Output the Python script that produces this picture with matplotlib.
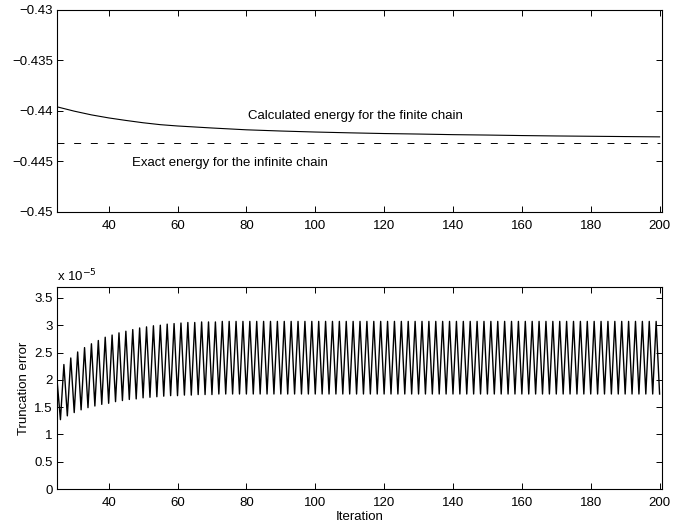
import numpy as np
import matplotlib
matplotlib.use('Agg')
import matplotlib.pyplot as plt

plt.rcParams['font.family'] = ['Liberation Sans', 'DejaVu Sans']
plt.rcParams['font.size'] = 9.5
plt.rcParams['lines.scale_dashes'] = False

# energy per site of the finite chain
energy_iter = [25, 30, 35, 40, 45, 50, 55, 60, 70, 80, 90, 100,
               110, 120, 130, 140, 150, 160, 170, 180, 190, 200]
energy_calc = [-0.4396, -0.44003, -0.4404, -0.4407, -0.44095, -0.44118,
               -0.44137, -0.4415, -0.4417, -0.44188, -0.442, -0.4421,
               -0.44218, -0.44225, -0.4423, -0.44236, -0.4424, -0.44245,
               -0.44249, -0.44252, -0.44255, -0.44258]
exact_iter = [25, 200]
exact_energy = [-0.44315, -0.44315]

# truncation error per iteration 25..200 (units of 1e-5)
trunc_first_iter = 25
trunc_err = [
    2.00, 1.27, 2.28, 1.34, 2.40, 1.40, 2.51, 1.45, 2.59, 1.49,
    2.66, 1.52, 2.72, 1.55, 2.78, 1.57, 2.82, 1.60, 2.86, 1.62,
    2.89, 1.64, 2.92, 1.65, 2.95, 1.67, 2.97, 1.68, 2.99, 1.69,
    3.00, 1.70, 3.02, 1.71, 3.03, 1.71, 3.04, 1.72, 3.05, 1.72,
    3.05, 1.73, 3.06, 1.73, 3.06, 1.73, 3.06, 1.74, 3.07, 1.74,
    3.07, 1.74, 3.07, 1.74, 3.07, 1.74, 3.07, 1.74, 3.07, 1.74,
    3.07, 1.74, 3.07, 1.74, 3.07, 1.74, 3.07, 1.74, 3.07, 1.74,
    3.07, 1.74, 3.07, 1.74, 3.07, 1.74, 3.07, 1.74, 3.07, 1.74,
    3.07, 1.74, 3.07, 1.74, 3.07, 1.74, 3.07, 1.74, 3.07, 1.74,
    3.07, 1.74, 3.07, 1.74, 3.07, 1.74, 3.07, 1.74, 3.07, 1.74,
    3.07, 1.74, 3.07, 1.74, 3.07, 1.74, 3.07, 1.74, 3.07, 1.74,
    3.07, 1.74, 3.07, 1.74, 3.07, 1.74, 3.07, 1.74, 3.07, 1.74,
    3.07, 1.74, 3.07, 1.74, 3.07, 1.74, 3.07, 1.74, 3.07, 1.74,
    3.07, 1.74, 3.07, 1.74, 3.07, 1.74, 3.07, 1.74, 3.07, 1.74,
    3.07, 1.74, 3.07, 1.74, 3.07, 1.74, 3.07, 1.74, 3.07, 1.74,
    3.07, 1.74, 3.07, 1.74, 3.07, 1.74, 3.07, 1.74, 3.07, 1.74,
    3.07, 1.74, 3.07, 1.74, 3.07, 1.74, 3.07, 1.74, 3.07, 1.74,
    3.07, 1.74, 3.07, 1.74, 3.07, 1.74,
]
trunc_iter = np.arange(trunc_first_iter, trunc_first_iter + len(trunc_err))

x_ticks = [40, 60, 80, 100, 120, 140, 160, 180, 200]
top_yticks = [-0.45, -0.445, -0.44, -0.435, -0.43]
top_ylabels = ['\u22120.45', '\u22120.445', '\u22120.44', '\u22120.435', '\u22120.43']
bot_yticks = [0, 0.5, 1, 1.5, 2, 2.5, 3, 3.5]
bot_ylabels = ['0', '0.5', '1', '1.5', '2', '2.5', '3', '3.5']

fig = plt.figure(figsize=(6.75, 5.29), dpi=100)
ax1 = fig.add_axes([57 / 675, 1 - 211.7 / 529, 605 / 675, 201.7 / 529])
ax2 = fig.add_axes([57 / 675, 1 - 489 / 529, 605 / 675, 202 / 529])


def matlab_style(ax):
    ax.tick_params(direction='in', top=True, right=True, length=4,
                   width=0.7, labelsize=9.5)
    ax.tick_params(axis='x', pad=6)
    ax.tick_params(axis='y', pad=3)
    for s in ax.spines.values():
        s.set_linewidth(0.8)


ax1.plot(energy_iter, energy_calc, color='black', lw=0.8)
ax1.plot(exact_iter, exact_energy, color='black', lw=0.7, dashes=(5, 7))
ax1.set_xlim(25, 200.7)
ax1.set_ylim(-0.45, -0.43)
ax1.set_xticks(x_ticks)
ax1.set_yticks(top_yticks)
ax1.set_yticklabels(top_ylabels)
ax1.text(80.5, -0.44053, 'Calculated energy for the finite chain',
         fontsize=9.5, va='center', ha='left')
ax1.text(46.8, -0.4452, 'Exact energy for the infinite chain',
         fontsize=9.5, va='center', ha='left')
matlab_style(ax1)

ax2.plot(trunc_iter, trunc_err, color='black', lw=1.0)
ax2.set_xlim(25, 200.7)
ax2.set_ylim(0, 3.7)
ax2.set_xticks(x_ticks)
ax2.set_yticks(bot_yticks)
ax2.set_yticklabels(bot_ylabels)
ax2.set_xlabel('Iteration', fontsize=9.5, labelpad=1)
ax2.set_ylabel('Truncation error', fontsize=9.5, labelpad=3)
ax2.text(0, 1.015, 'x 10$^{-5}$', transform=ax2.transAxes,
         fontsize=9.5, ha='left', va='bottom')
matlab_style(ax2)

fig.savefig('out.png', dpi=100)
